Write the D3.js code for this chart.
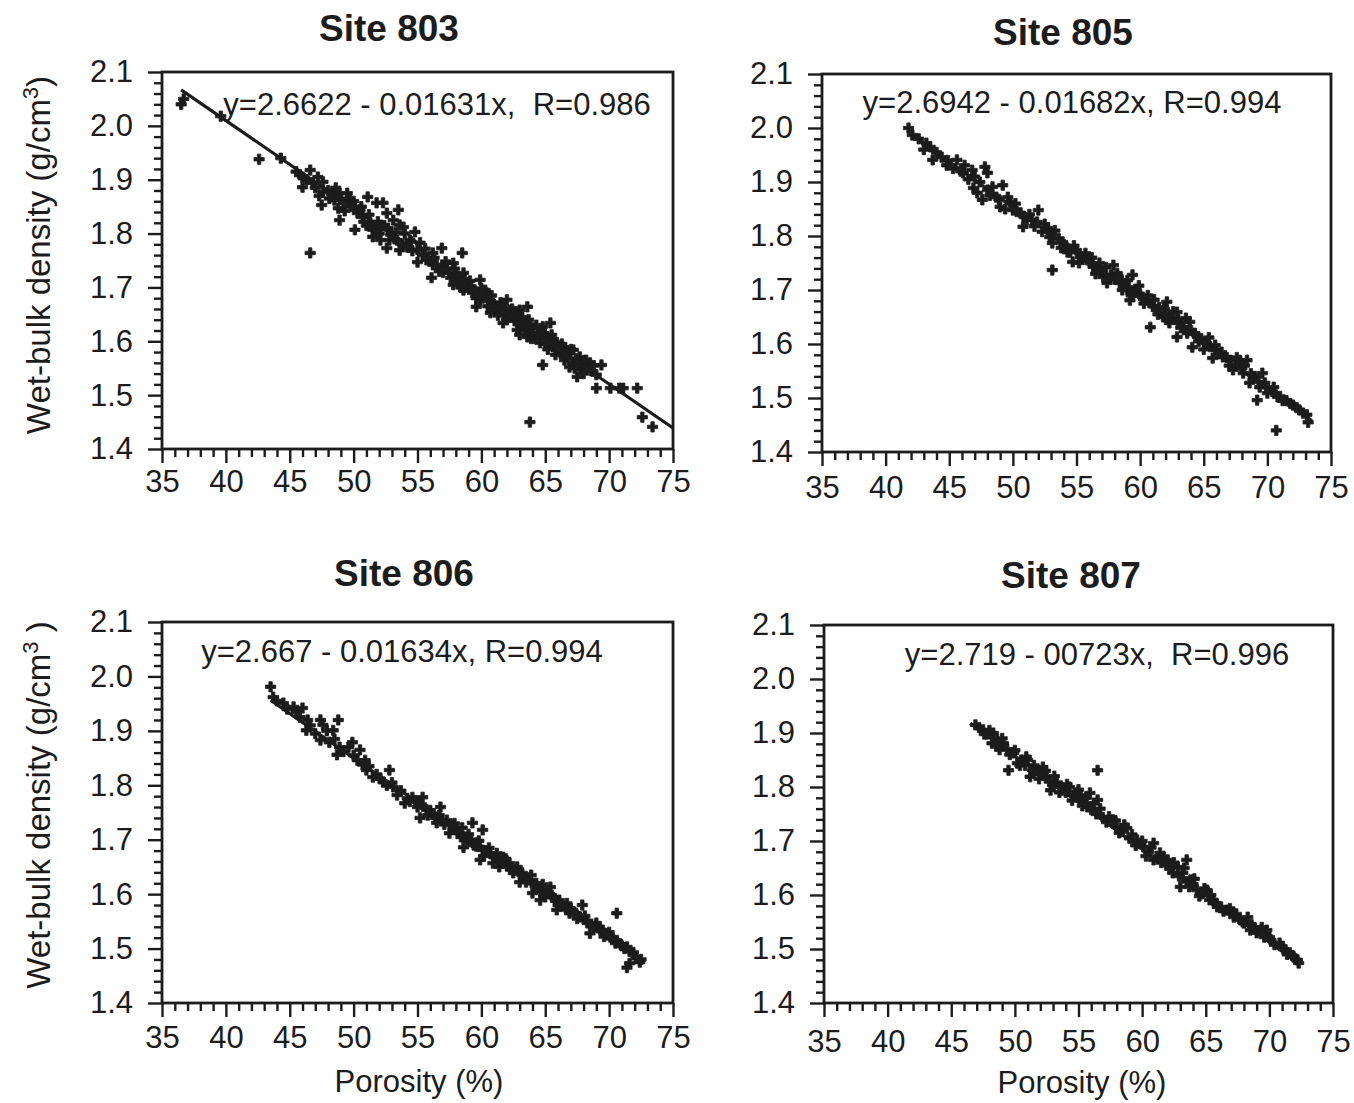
<!DOCTYPE html>
<html>
<head>
<meta charset="utf-8">
<script src="https://cdn.jsdelivr.net/npm/d3@7"></script>
<style>
  html, body { margin: 0; padding: 0; background: #fff; }
  svg { display: block; font-family: "Liberation Sans", Arial, Helvetica, sans-serif; }
</style>
</head>
<body>
<svg id="chart" width="1354" height="1103"></svg>
<script>
// ---------------- DATA ----------------
const siteNames = ["Site 803", "Site 805", "Site 806", "Site 807"];
const equationLabels = [
  "y=2.6622 - 0.01631x,  R=0.986",
  "y=2.6942 - 0.01682x, R=0.994",
  "y=2.667 - 0.01634x, R=0.994",
  "y=2.719 - 00723x,  R=0.996"
];
const intercepts = [2.6622, 2.6942, 2.667, 2.719];
const slopes = [-0.01631, -0.01682, -0.01634, -0.01723];
const lineStartX = [36.5, 42.0, 43.5, 46.5];
const lineEndX = [75.0, 73.5, 72.5, 72.0];

const xTickValues = [35, 40, 45, 50, 55, 60, 65, 70, 75];
const yTickValues = [1.4, 1.5, 1.6, 1.7, 1.8, 1.9, 2.0, 2.1];
const xDomain = [35, 75];
const yDomain = [1.4, 2.1];
const xLabel = "Porosity (%)";
const yLabelMain = "Wet-bulk density (g/cm";
const yLabelSup = "3";

const pts803 = [
  [36.5,2.040],[36.7,2.050],[39.6,2.018],[42.6,1.938],[44.3,1.940],[46.0,1.905],
  [45.8,1.909],[46.6,1.918],[46.0,1.886],[46.8,1.894],[47.6,1.896],[47.6,1.877],
  [47.5,1.853],[48.4,1.872],[48.9,1.875],[49.5,1.875],[49.7,1.862],[49.2,1.857],
  [48.8,1.847],[48.9,1.825],[50.1,1.849],[50.5,1.844],[51.1,1.868],[51.8,1.857],
  [52.3,1.857],[50.1,1.807],[50.7,1.831],[51.3,1.821],[51.5,1.807],[52.1,1.812],
  [52.6,1.838],[53.1,1.825],[53.5,1.844],[53.6,1.816],[53.9,1.812],[51.5,1.794],
  [52.1,1.788],[52.8,1.788],[52.6,1.773],[53.6,1.769],[53.4,1.788],[54.4,1.788],
  [54.8,1.803],[55.2,1.783],[55.0,1.747],[55.7,1.751],[56.2,1.764],[56.9,1.773],
  [56.2,1.742],[56.1,1.718],[57.0,1.738],[57.8,1.745],[58.5,1.764],[57.5,1.727],
  [58.1,1.720],[57.8,1.705],[58.6,1.727],[58.9,1.708],[58.6,1.695],[59.9,1.714],
  [59.3,1.690],[59.9,1.677],[59.6,1.664],[60.4,1.690],[60.9,1.671],[60.7,1.653],
  [61.4,1.658],[62.0,1.677],[62.2,1.658],[61.7,1.634],[62.5,1.645],[63.0,1.658],
  [63.6,1.664],[62.8,1.621],[63.3,1.634],[63.8,1.627],[64.0,1.615],[63.6,1.608],
  [64.8,1.627],[65.4,1.634],[65.1,1.608],[64.6,1.597],[65.6,1.603],[64.8,1.556],
  [65.9,1.584],[66.4,1.589],[66.7,1.571],[67.2,1.584],[67.7,1.571],[66.9,1.552],
  [67.5,1.534],[68.0,1.552],[68.5,1.560],[69.4,1.556],[69.0,1.513],[70.1,1.513],
  [70.8,1.513],[71.1,1.513],[72.2,1.513],[63.8,1.450],[72.6,1.459],[73.4,1.441],
  [46.6,1.764],
  [56.5,1.742],[57.0,1.728],[57.3,1.735],[57.6,1.718],[58.0,1.722],[58.3,1.708],
  [58.8,1.700],[59.1,1.712],[59.4,1.695],[59.8,1.690],[60.1,1.680],[60.3,1.695],
  [60.6,1.675],[61.0,1.668],[61.2,1.660],[61.5,1.672],[61.8,1.650],[62.1,1.645],
  [62.4,1.660],[62.6,1.638],[62.9,1.642],[63.1,1.628],[63.4,1.620],[63.7,1.640],
  [64.0,1.625],[64.2,1.605],[64.5,1.612],[64.7,1.620],[65.0,1.595],[65.3,1.600],
  [65.6,1.590],[65.9,1.598],[66.2,1.578],[66.5,1.565],[66.8,1.582],[67.1,1.560],
  [67.4,1.568],[67.8,1.548],[68.2,1.565],[68.6,1.545],[69.0,1.538],
  [47.0,1.885],[47.2,1.905],[48.0,1.880],[48.5,1.862],[49.0,1.865],[49.8,1.850],
  [50.3,1.838],[50.8,1.822],[51.2,1.835],[51.6,1.812],[52.0,1.800],[52.4,1.815],
  [52.9,1.798],[53.3,1.802],[53.8,1.780],[54.2,1.775],[54.6,1.768],[55.4,1.760],
  [55.8,1.755],
  [45.5,1.915],[46.3,1.900],[47.3,1.870],[48.1,1.865],[48.6,1.885],[49.3,1.842],
  [50.0,1.860],[50.6,1.850],[51.0,1.815],[51.9,1.822],[52.7,1.810],[53.2,1.790],
  [54.0,1.800],[54.5,1.785],[55.0,1.770],[55.6,1.772],[56.3,1.755],[56.7,1.730],
  [57.2,1.748],[57.9,1.735],[58.4,1.700],[58.7,1.715],[59.2,1.702],[59.6,1.680],
  [60.0,1.698],[60.5,1.665],[60.8,1.685],[61.3,1.648],[61.6,1.665],[62.0,1.640],
  [62.3,1.650],[62.7,1.655],[63.0,1.612],[63.2,1.645],[63.5,1.630],[63.9,1.605],
  [64.3,1.630],[64.6,1.605],[64.9,1.615],[65.2,1.585],[65.5,1.612],[65.8,1.575],
  [66.0,1.590],[66.3,1.595],[66.6,1.575],[67.0,1.585],[67.3,1.550],[67.6,1.560],
  [68.0,1.540],[68.4,1.552],[68.8,1.555]
];

const pts805 = [
  [41.8,2.000],[42.1,1.987],[43.2,1.972],[43.5,1.965],[43.7,1.941],[44.4,1.946],
  [44.8,1.931],[45.6,1.941],[46.2,1.931],[46.1,1.917],[46.8,1.922],[47.8,1.928],
  [48.0,1.917],[46.9,1.889],[47.4,1.900],[48.0,1.885],[48.4,1.891],[49.2,1.894],
  [47.6,1.867],[48.7,1.872],[49.0,1.854],[49.8,1.863],[50.0,1.848],[50.6,1.843],
  [52.0,1.848],[51.1,1.830],[51.9,1.826],[50.8,1.817],[52.7,1.815],[52.9,1.798],
  [53.1,1.787],[53.9,1.789],[53.1,1.737],[54.2,1.780],[55.0,1.774],[55.3,1.761],
  [54.7,1.752],[55.8,1.756],[56.3,1.743],[56.8,1.750],[57.9,1.746],[58.2,1.731],
  [57.1,1.724],[57.4,1.713],[58.4,1.713],[59.4,1.728],[59.0,1.700],[59.7,1.700],
  [59.2,1.681],[60.2,1.687],[60.8,1.676],[61.3,1.663],[62.1,1.678],[62.9,1.659],
  [61.8,1.650],[62.3,1.639],[60.8,1.631],[63.1,1.639],[63.9,1.641],[62.9,1.613],
  [63.7,1.620],[64.5,1.613],[64.1,1.594],[65.2,1.602],[66.0,1.589],[65.7,1.574],
  [66.5,1.576],[67.1,1.570],[67.8,1.570],[68.4,1.570],[67.3,1.552],[68.1,1.546],
  [68.9,1.539],[69.6,1.546],[68.6,1.528],[69.4,1.520],[69.2,1.496],[70.0,1.509],
  [70.8,1.502],[72.0,1.487],[73.1,1.469],[73.2,1.455],[70.7,1.440],
  [50.3,1.845],[51.5,1.830],[52.3,1.808],[53.6,1.795],[54.0,1.784],[54.5,1.770],
  [55.5,1.760],[56.0,1.755],[56.6,1.742],[57.0,1.735],[57.7,1.728],[58.0,1.720],
  [58.7,1.712],[59.1,1.705],[59.5,1.695],[60.0,1.690],[60.5,1.682],[61.0,1.670],
  [61.5,1.668],[62.0,1.655],[62.5,1.648],[63.0,1.645],[63.4,1.632],[64.0,1.625],
  [64.8,1.610],[65.5,1.595],[66.2,1.582],[66.8,1.575],[67.5,1.560],[68.0,1.556],
  [69.0,1.540],[69.8,1.528],[70.4,1.512],[71.0,1.503],[71.5,1.495],[72.5,1.478],
  [42.6,1.980],[43.0,1.960],[44.0,1.955],[44.9,1.940],[45.3,1.925],[45.9,1.920],
  [46.5,1.905],[47.0,1.910],[47.2,1.880],[48.2,1.875],[48.9,1.868],[49.4,1.850],
  [49.6,1.872],[50.2,1.860],[50.9,1.835],[51.3,1.840],[51.7,1.818],[52.5,1.822],
  [53.0,1.805],[53.3,1.810],[53.8,1.778],[54.3,1.770],[54.8,1.782],[55.2,1.750],
  [55.7,1.768],[56.2,1.760],[56.5,1.730],[57.3,1.742],[57.6,1.722],[58.3,1.725],
  [58.6,1.700],[59.0,1.718],[59.3,1.690],[59.9,1.708],[60.3,1.675],[60.6,1.690],
  [61.1,1.682],[61.4,1.655],[61.9,1.665],[62.2,1.645],[62.6,1.660],[63.2,1.630],
  [63.6,1.648],[64.3,1.620],[64.6,1.605],[65.0,1.590],[65.4,1.612],[65.9,1.598],
  [66.4,1.585],[67.0,1.560],[67.6,1.575],[68.2,1.560],[68.7,1.545],[69.3,1.530],
  [69.9,1.520],[70.5,1.520],[71.2,1.495],[71.8,1.490],[72.3,1.482],[72.8,1.472]
];

const pts806 = [
  [43.5,1.981],[43.7,1.962],[44.5,1.951],[45.3,1.944],[46.0,1.942],[45.8,1.925],
  [46.4,1.920],[46.3,1.901],[47.4,1.920],[47.6,1.911],[48.8,1.920],[48.4,1.901],
  [47.4,1.883],[48.1,1.879],[48.9,1.870],[48.7,1.856],[49.9,1.879],[50.5,1.865],
  [50.3,1.846],[50.9,1.846],[51.0,1.828],[51.5,1.815],[52.8,1.828],[52.3,1.806],
  [53.1,1.797],[53.4,1.782],[54.2,1.776],[54.0,1.767],[54.6,1.778],[55.4,1.778],
  [55.0,1.760],[55.2,1.740],[56.0,1.754],[56.8,1.760],[56.5,1.731],[57.3,1.736],
  [57.8,1.723],[57.5,1.712],[58.3,1.712],[59.3,1.731],[60.1,1.718],[58.9,1.699],
  [58.6,1.686],[59.6,1.694],[60.1,1.681],[59.9,1.663],[60.7,1.675],[61.2,1.675],
  [61.7,1.668],[60.9,1.657],[61.4,1.650],[62.2,1.657],[62.8,1.650],[62.5,1.639],
  [63.2,1.639],[63.8,1.626],[63.0,1.622],[64.3,1.620],[64.8,1.607],[65.4,1.613],
  [64.0,1.602],[64.6,1.589],[65.6,1.594],[66.1,1.589],[65.9,1.571],[66.7,1.583],
  [67.9,1.580],[66.9,1.565],[67.7,1.558],[68.3,1.547],[69.0,1.547],[68.5,1.528],
  [69.5,1.534],[70.6,1.565],[70.1,1.521],[70.6,1.515],[71.4,1.503],[71.9,1.493],
  [72.4,1.475],[71.6,1.473],[71.4,1.465],
  [55.7,1.755],[56.2,1.748],[56.9,1.737],[57.6,1.727],[58.1,1.718],[58.8,1.705],
  [59.2,1.700],[59.6,1.688],[60.4,1.680],[61.0,1.668],[61.6,1.660],[62.0,1.652],
  [62.6,1.644],[63.3,1.630],[63.6,1.630],[64.2,1.615],[64.9,1.600],[65.2,1.602],
  [65.8,1.588],[66.4,1.578],[67.0,1.573],[67.4,1.565],[68.0,1.555],[68.8,1.540],
  [69.3,1.535],[69.8,1.525],[70.3,1.518],[70.9,1.508],[71.2,1.500],
  [44.0,1.955],[44.8,1.940],[45.5,1.935],[46.6,1.910],[47.0,1.895],[47.9,1.900],
  [48.5,1.885],[49.2,1.862],[49.6,1.870],[50.0,1.855],[50.7,1.838],[51.2,1.835],
  [51.8,1.820],[52.1,1.812],[52.6,1.800],[53.0,1.805],[53.7,1.790],[54.4,1.770],
  [54.8,1.772],[55.3,1.765],[55.8,1.745],[56.4,1.740],[56.7,1.745],[57.1,1.728],
  [57.9,1.730],[58.4,1.705],[58.5,1.722],[59.0,1.710],[59.4,1.690],[59.8,1.698],
  [60.2,1.670],[60.6,1.685],[61.3,1.662],[61.9,1.665],[62.3,1.645],[62.9,1.642],
  [63.5,1.622],[63.9,1.635],[64.5,1.610],[64.8,1.618],[65.0,1.595],[65.5,1.598],
  [66.0,1.580],[66.6,1.575],[67.2,1.568],[67.5,1.555],[68.1,1.560],[68.6,1.545],
  [69.1,1.538],[69.6,1.522],[70.0,1.530],[70.5,1.510],[71.0,1.505],[71.6,1.495],
  [72.1,1.482],[72.5,1.480]
];

const pts807 = [
  [46.9,1.915],[47.5,1.906],[48.3,1.900],[48.2,1.881],[49.1,1.881],[48.8,1.869],
  [49.9,1.863],[49.5,1.831],[50.2,1.844],[51.0,1.850],[51.4,1.831],[51.2,1.819],
  [52.2,1.837],[52.5,1.819],[53.3,1.807],[52.8,1.794],[53.8,1.794],[54.3,1.800],
  [54.9,1.789],[55.1,1.776],[55.7,1.763],[55.9,1.789],[56.5,1.776],[56.5,1.831],
  [56.9,1.744],[57.7,1.739],[58.0,1.726],[58.8,1.724],[59.6,1.702],[60.1,1.689],
  [60.9,1.696],[61.4,1.678],[60.9,1.665],[62.0,1.665],[62.8,1.652],[62.4,1.641],
  [63.2,1.641],[63.8,1.628],[63.5,1.665],[63.0,1.615],[64.3,1.609],[65.1,1.609],
  [65.3,1.591],[65.9,1.578],[66.7,1.572],[67.2,1.559],[67.7,1.554],[68.3,1.559],
  [68.5,1.535],[69.3,1.535],[69.8,1.535],[70.1,1.517],[70.8,1.511],[71.6,1.493],
  [72.2,1.480],[72.3,1.474],
  [47.8,1.898],[48.6,1.888],[49.4,1.870],[50.5,1.850],[50.8,1.840],[51.7,1.830],
  [52.0,1.825],[53.0,1.805],[53.6,1.802],[54.0,1.790],[54.6,1.785],[55.4,1.778],
  [56.2,1.770],[57.2,1.735],[58.4,1.718],[59.0,1.705],[59.9,1.695],[60.5,1.680],
  [61.7,1.670],[62.2,1.650],[63.5,1.625],[64.0,1.620],[64.7,1.602],[65.6,1.590],
  [66.2,1.578],[67.0,1.568],[68.0,1.548],[68.8,1.540],[69.6,1.522],[71.1,1.500],
  [71.9,1.485],
  [47.2,1.910],[47.6,1.898],[48.0,1.905],[48.5,1.880],[49.0,1.890],[49.6,1.860],
  [50.0,1.868],[50.4,1.840],[50.9,1.856],[51.5,1.840],[51.9,1.815],[52.4,1.830],
  [52.7,1.810],[53.1,1.820],[53.5,1.790],[54.1,1.805],[54.5,1.775],[55.0,1.795],
  [55.3,1.765],[55.6,1.780],[56.0,1.758],[56.4,1.750],[56.7,1.760],[57.4,1.745],
  [57.9,1.738],[58.2,1.715],[58.6,1.730],[59.2,1.712],[59.5,1.692],[60.0,1.700],
  [60.3,1.672],[60.7,1.688],[61.2,1.670],[61.5,1.660],[61.9,1.655],[62.5,1.660],
  [62.9,1.635],[63.3,1.650],[63.7,1.615],[64.1,1.630],[64.5,1.598],[64.9,1.612],
  [65.4,1.600],[65.8,1.585],[66.4,1.570],[66.9,1.575],[67.4,1.565],[67.9,1.550],
  [68.6,1.545],[69.0,1.530],[69.4,1.540],[70.0,1.522],[70.4,1.508],[71.0,1.505],
  [71.4,1.490],[71.8,1.488]
];
const sitePoints = [pts803, pts805, pts806, pts807];

// ---------------- LAYOUT ----------------
const panels = [
  { left: 162, right: 673, top: 72, bottom: 449, pad: 7, titleX: 389, titleY: 41, eqX: 437, eqY: 115, xlab: false, ylabY: 255 },
  { left: 822, right: 1331, top: 74, bottom: 452, pad: 10, titleX: 1063, titleY: 45, eqX: 1072, eqY: 113, xlab: false, ylabY: null },
  { left: 162, right: 673, top: 622, bottom: 1003, pad: 9, titleX: 404, titleY: 586, eqX: 402, eqY: 662, xlab: true, xlabX: 419, xlabY: 1092, ylabY: 805 },
  { left: 824, right: 1333, top: 625, bottom: 1003, pad: 13, titleX: 1071, titleY: 588, eqX: 1097, eqY: 665, xlab: true, xlabX: 1082, xlabY: 1093, ylabY: null }
];

const svg = d3.select("#chart");
const ink = "#1c1c1c";
const marker = d3.symbol().type(d3.symbolCross).size(58);

panels.forEach((p, i) => {
  const x = d3.scaleLinear().domain(xDomain).range([p.left, p.right]);
  const y = d3.scaleLinear().domain(yDomain).range([p.bottom, p.top]);
  const g = svg.append("g");

  const xMinor = d3.range(xDomain[0], xDomain[1] + 0.001, 1).filter(v => v % 5 !== 0);
  const yMinor = d3.range(0, 36).map(k => +(1.4 + k * 0.02).toFixed(2)).filter(v => Math.round(v * 100) % 10 !== 0);

  const xAxis = g.append("g").attr("transform", `translate(0,${p.bottom})`)
    .call(d3.axisBottom(x).tickValues(xTickValues).tickSize(14).tickPadding(p.pad).tickFormat(d3.format("d")));
  const xAxisMinor = g.append("g").attr("transform", `translate(0,${p.bottom})`)
    .call(d3.axisBottom(x).tickValues(xMinor).tickSize(8).tickFormat(""));
  const yAxis = g.append("g").attr("transform", `translate(${p.left},0)`)
    .call(d3.axisLeft(y).tickValues(yTickValues).tickSize(14).tickPadding(15).tickFormat(d3.format(".1f")));
  const yAxisMinor = g.append("g").attr("transform", `translate(${p.left},0)`)
    .call(d3.axisLeft(y).tickValues(yMinor).tickSize(8).tickFormat(""));

  [xAxis, xAxisMinor, yAxis, yAxisMinor].forEach(a => {
    a.select(".domain").remove();
    a.selectAll(".tick line").attr("stroke", ink).attr("stroke-width", 2.4);
    a.selectAll(".tick text").attr("fill", ink).style("font-size", "31px");
  });

  // frame
  g.append("rect")
    .attr("x", p.left).attr("y", p.top)
    .attr("width", p.right - p.left).attr("height", p.bottom - p.top)
    .attr("fill", "none").attr("stroke", ink).attr("stroke-width", 2.8);

  // points
  g.append("g").selectAll("path").data(sitePoints[i]).join("path")
    .attr("d", marker)
    .attr("transform", d => `translate(${x(d[0])},${y(d[1])})`)
    .attr("fill", ink).attr("stroke", ink).attr("stroke-width", 0.8);

  // regression line
  const lx = [lineStartX[i], lineEndX[i]];
  g.append("line")
    .attr("x1", x(lx[0])).attr("y1", y(intercepts[i] + slopes[i] * lx[0]))
    .attr("x2", x(lx[1])).attr("y2", y(intercepts[i] + slopes[i] * lx[1]))
    .attr("stroke", ink).attr("stroke-width", 3.2);

  // equation label
  g.append("text").attr("x", p.eqX).attr("y", p.eqY)
    .attr("text-anchor", "middle").attr("fill", ink)
    .style("font-size", "31px").style("white-space", "pre")
    .text(equationLabels[i]);

  // title
  g.append("text").attr("x", p.titleX).attr("y", p.titleY)
    .attr("text-anchor", "middle").attr("fill", ink)
    .style("font-size", "37px").style("font-weight", "bold")
    .text(siteNames[i]);

  if (p.xlab) {
    g.append("text").attr("x", p.xlabX).attr("y", p.xlabY)
      .attr("text-anchor", "middle").attr("fill", ink)
      .style("font-size", "31px").text(xLabel);
  }
  if (p.ylabY) {
    const t = g.append("text")
      .attr("transform", `translate(50,${p.ylabY}) rotate(-90)`)
      .attr("text-anchor", "middle").attr("fill", ink)
      .style("font-size", "33px");
    t.append("tspan").text(yLabelMain);
    t.append("tspan").attr("dy", -12).style("font-size", "22px").text(yLabelSup);
    t.append("tspan").attr("dy", 12).text(i === 2 ? " )" : ")");
  }
});
</script>
</body>
</html>
